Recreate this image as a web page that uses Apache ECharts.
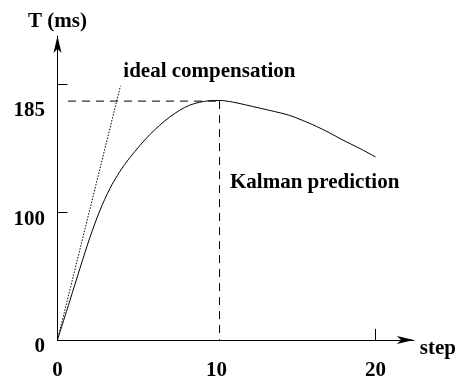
<!DOCTYPE html>
<html>
<head>
<meta charset="utf-8">
<script src="https://cdn.jsdelivr.net/npm/echarts@6/dist/echarts.min.js"></script>
<style>
html,body{margin:0;padding:0;background:#fff;}
#c{width:459px;height:381px;}
</style>
</head>
<body>
<div id="c"></div>
<script>
// data
const kalmanSteps = [0, 0.784, 1.411, 2.038, 2.665, 3.292, 3.918, 4.545, 5.172, 5.799, 6.426, 7.053, 7.680, 8.307, 8.934, 9.561, 10.188, 11.003, 11.818, 12.696, 13.636, 14.577, 15.392, 16.270, 17.085, 17.900, 18.966, 20];
const kalmanT     = [0, 31.0, 56.0, 80.2, 101.3, 118.5, 131.8, 142.7, 152.1, 160.7, 168.1, 174.5, 179.8, 183.8, 186.1, 187.3, 187.5, 186.3, 184.1, 181.6, 178.9, 175.9, 172.0, 167.3, 162.3, 156.8, 150.2, 143.3];
const idealSteps  = [0, 3.96];
const idealT      = [0, 199];
const peakStep    = 10.19;
const peakT       = 187;
const peakLineStart = 0.66;
const xLabelValues = [0, 10, 20];
const xTickValues  = [20];
const yLabelValues = [0, 100, 185];
const yTickValues  = [100, 200];

const FONT = 'Liberation Serif';
const pairs = (xs, ys) => xs.map((x, i) => [x, ys[i]]);

const chart = echarts.init(document.getElementById('c'), null, {renderer: 'canvas'});
chart.setOption({
  animation: false,
  backgroundColor: '#ffffff',
  grid: {left: 57.5, top: 36, right: 44, bottom: 40.3, containLabel: false},
  xAxis: {
    type: 'value', min: 0, max: 22.41,
    name: 'step', nameLocation: 'end', nameGap: 6,
    nameTextStyle: {fontFamily: FONT, fontWeight: 'bold', fontSize: 21, color: '#000', verticalAlign: 'top', lineHeight: 18},
    axisLine: {show: true, symbol: ['none', 'arrow'], symbolSize: [6, 17], lineStyle: {color: '#000', width: 1}},
    axisTick: {show: true, inside: true, length: 11, customValues: xTickValues, lineStyle: {color: '#000', width: 1}},
    axisLabel: {show: true, customValues: xLabelValues, margin: 23.6, verticalAlign: 'top', lineHeight: 14,
      fontFamily: FONT, fontWeight: 'bold', fontSize: 21, color: '#000'},
    splitLine: {show: false}
  },
  yAxis: {
    type: 'value', min: 0, max: 238,
    name: 'T (ms)', nameLocation: 'end', nameGap: 3.5,
    nameTextStyle: {fontFamily: FONT, fontWeight: 'bold', fontSize: 21, color: '#000'},
    axisLine: {show: true, symbol: ['none', 'arrow'], symbolSize: [6, 17], lineStyle: {color: '#000', width: 1}},
    axisTick: {show: true, inside: true, length: 10, customValues: yTickValues, lineStyle: {color: '#000', width: 1}},
    axisLabel: {show: true, customValues: yLabelValues, margin: 12.5, verticalAlign: 'top', lineHeight: 14,
      fontFamily: FONT, fontWeight: 'bold', fontSize: 21, color: '#000'},
    splitLine: {show: false}
  },
  series: [
    {
      name: 'Kalman prediction', type: 'line', data: pairs(kalmanSteps, kalmanT),
      smooth: 0.3, symbol: 'none', lineStyle: {color: '#000', width: 1}, z: 5
    },
    {
      name: 'ideal compensation', type: 'line', data: pairs(idealSteps, idealT),
      symbol: 'none', lineStyle: {color: '#000', width: 1, type: [1.5, 1.5]}
    },
    {
      name: 'peak level', type: 'line', data: [[peakLineStart, peakT], [peakStep, peakT]],
      symbol: 'none', lineStyle: {color: '#000', width: 1, type: [8, 6]}
    },
    {
      name: 'peak step', type: 'line', data: [[peakStep, peakT], [peakStep, 0]],
      symbol: 'none', lineStyle: {color: '#000', width: 1, type: [8, 6]}
    }
  ],
  graphic: [
    {type: 'text', left: 123.3, top: 61, style: {text: 'ideal compensation', fontFamily: FONT, fontWeight: 'bold', fontSize: 21, fill: '#000'}},
    {type: 'text', left: 230, top: 172, style: {text: 'Kalman prediction', fontFamily: FONT, fontWeight: 'bold', fontSize: 21, fill: '#000'}}
  ]
});
</script>
</body>
</html>
